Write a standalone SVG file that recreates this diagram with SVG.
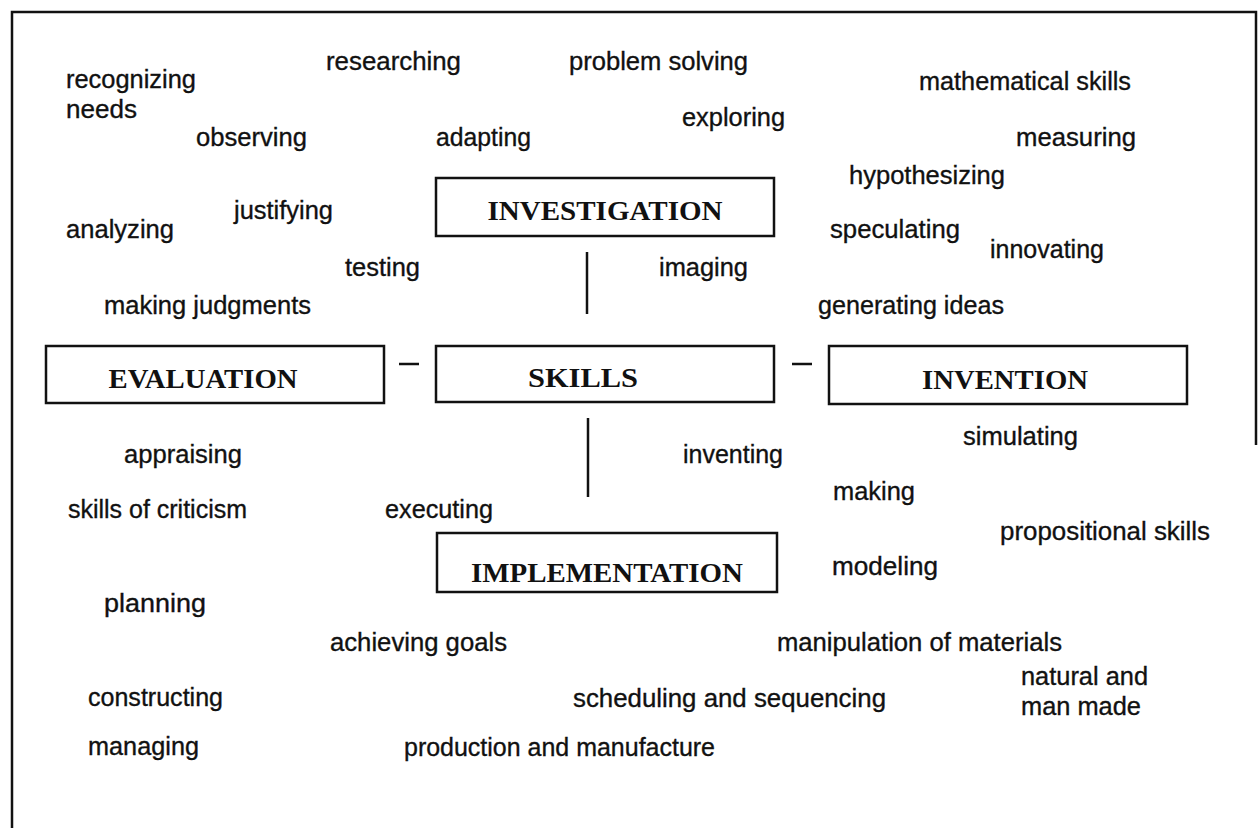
<svg xmlns="http://www.w3.org/2000/svg" width="1260" height="828" viewBox="0 0 1260 828">
<style>
.w{font-family:"Liberation Sans",Arial,Helvetica,sans-serif;font-size:26px;fill:#111;stroke:#111;stroke-width:0.35}
.b{font-family:"Liberation Serif","Times New Roman",serif;font-size:27px;font-weight:bold;fill:#111}
.box{fill:#fff;stroke:#111;stroke-width:2.5}
.ln{stroke:#111;stroke-width:2.5;fill:none}
</style>
<rect width="1260" height="828" fill="#fff"/>
<g id="frame"><path class="ln" d="M12,828 V12 H1256 V445" stroke-width="3"/></g>
<g id="connectors">
<line class="ln" x1="587" y1="252" x2="587" y2="314"/>
<line class="ln" x1="588" y1="418" x2="588" y2="497"/>
<line class="ln" x1="399" y1="364" x2="419" y2="364"/>
<line class="ln" x1="792" y1="364" x2="812" y2="364"/>
</g>
<g id="investigation"><rect class="box" x="436" y="178" width="338" height="58"/><text class="b" x="605" y="220" text-anchor="middle" textLength="235" lengthAdjust="spacingAndGlyphs">INVESTIGATION</text></g>
<g id="evaluation"><rect class="box" x="46" y="346" width="338" height="57"/><text class="b" x="203" y="388" text-anchor="middle" textLength="189" lengthAdjust="spacingAndGlyphs">EVALUATION</text></g>
<g id="skills"><rect class="box" x="436" y="346" width="338" height="56"/><text class="b" x="583" y="387" text-anchor="middle" textLength="110" lengthAdjust="spacingAndGlyphs">SKILLS</text></g>
<g id="invention"><rect class="box" x="829" y="346" width="358" height="58"/><text class="b" x="1005" y="389" text-anchor="middle" textLength="166" lengthAdjust="spacingAndGlyphs">INVENTION</text></g>
<g id="implementation"><rect class="box" x="437" y="533" width="340" height="59"/><text class="b" x="607" y="582" text-anchor="middle" textLength="272" lengthAdjust="spacingAndGlyphs">IMPLEMENTATION</text></g>
<g id="words" class="w">
<text x="66" y="88" textLength="130" lengthAdjust="spacingAndGlyphs">recognizing</text>
<text x="66" y="118" textLength="71" lengthAdjust="spacingAndGlyphs">needs</text>
<text x="326" y="70" textLength="135" lengthAdjust="spacingAndGlyphs">researching</text>
<text x="569" y="70" textLength="179" lengthAdjust="spacingAndGlyphs">problem solving</text>
<text x="919" y="90" textLength="212" lengthAdjust="spacingAndGlyphs">mathematical skills</text>
<text x="196" y="146" textLength="111" lengthAdjust="spacingAndGlyphs">observing</text>
<text x="436" y="146" textLength="95" lengthAdjust="spacingAndGlyphs">adapting</text>
<text x="682" y="126" textLength="103" lengthAdjust="spacingAndGlyphs">exploring</text>
<text x="1016" y="146" textLength="120" lengthAdjust="spacingAndGlyphs">measuring</text>
<text x="849" y="184" textLength="156" lengthAdjust="spacingAndGlyphs">hypothesizing</text>
<text x="234" y="219" textLength="99" lengthAdjust="spacingAndGlyphs">justifying</text>
<text x="66" y="238" textLength="108" lengthAdjust="spacingAndGlyphs">analyzing</text>
<text x="830" y="238" textLength="130" lengthAdjust="spacingAndGlyphs">speculating</text>
<text x="990" y="258" textLength="114" lengthAdjust="spacingAndGlyphs">innovating</text>
<text x="345" y="276" textLength="75" lengthAdjust="spacingAndGlyphs">testing</text>
<text x="659" y="276" textLength="89" lengthAdjust="spacingAndGlyphs">imaging</text>
<text x="104" y="314" textLength="207" lengthAdjust="spacingAndGlyphs">making judgments</text>
<text x="818" y="314" textLength="186" lengthAdjust="spacingAndGlyphs">generating ideas</text>
<text x="124" y="463" textLength="118" lengthAdjust="spacingAndGlyphs">appraising</text>
<text x="683" y="463" textLength="100" lengthAdjust="spacingAndGlyphs">inventing</text>
<text x="963" y="445" textLength="115" lengthAdjust="spacingAndGlyphs">simulating</text>
<text x="68" y="518" textLength="179" lengthAdjust="spacingAndGlyphs">skills of criticism</text>
<text x="385" y="518" textLength="108" lengthAdjust="spacingAndGlyphs">executing</text>
<text x="833" y="500" textLength="82" lengthAdjust="spacingAndGlyphs">making</text>
<text x="1000" y="540" textLength="210" lengthAdjust="spacingAndGlyphs">propositional skills</text>
<text x="832" y="575" textLength="106" lengthAdjust="spacingAndGlyphs">modeling</text>
<text x="104" y="612" textLength="102" lengthAdjust="spacingAndGlyphs">planning</text>
<text x="330" y="651" textLength="177" lengthAdjust="spacingAndGlyphs">achieving goals</text>
<text x="777" y="651" textLength="285" lengthAdjust="spacingAndGlyphs">manipulation of materials</text>
<text x="88" y="706" textLength="135" lengthAdjust="spacingAndGlyphs">constructing</text>
<text x="573" y="707" textLength="313" lengthAdjust="spacingAndGlyphs">scheduling and sequencing</text>
<text x="1021" y="685" textLength="127" lengthAdjust="spacingAndGlyphs">natural and</text>
<text x="1021" y="715" textLength="120" lengthAdjust="spacingAndGlyphs">man made</text>
<text x="88" y="755" textLength="111" lengthAdjust="spacingAndGlyphs">managing</text>
<text x="404" y="756" textLength="311" lengthAdjust="spacingAndGlyphs">production and manufacture</text>
</g>
</svg>
